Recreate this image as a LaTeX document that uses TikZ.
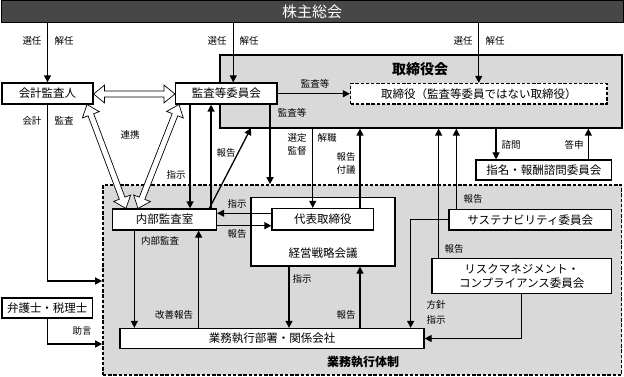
\documentclass[tikz,border=0pt]{standalone}
\usepackage{fontspec}
\setmainfont{Noto Sans CJK JP}
\usetikzlibrary{arrows.meta,calc}
\definecolor{lg}{HTML}{D9D9D9}
\definecolor{dg}{HTML}{474747}
\newcommand\hollowdbl[2]{%
  \draw[line width=0.7pt, fill=white]
    (#1) -- ($(#1)!14.21pt!39.3:(#2)$) -- ($(#1)!11.40pt!15.26:(#2)$)
    -- ($(#2)!11.40pt!-15.26:(#1)$) -- ($(#2)!14.21pt!-39.3:(#1)$)
    -- (#2) -- ($(#2)!14.21pt!39.3:(#1)$) -- ($(#2)!11.40pt!15.26:(#1)$)
    -- ($(#1)!11.40pt!-15.26:(#2)$) -- ($(#1)!14.21pt!-39.3:(#2)$) -- cycle;}
\begin{document}
\begin{tikzpicture}[x=1pt,y=-1pt,
  box/.style={draw, line width=1.3pt, fill=white, inner sep=0pt, font=\fontsize{11.5}{14}\selectfont},
  dbox/.style={box, dash pattern=on 3.4pt off 1.8pt},
  lbl/.style={font=\fontsize{9.5}{11}\selectfont, inner sep=0pt},
  arr/.style={line width=1.3pt, -{Triangle[length=7pt,width=7pt]}},
]
\useasboundingbox (0,0) rectangle (624,377);
% top bar
\node[draw, line width=1pt, fill=dg, text=white, minimum width=622, minimum height=22, inner sep=0pt,
  font=\fontsize{15}{17}\selectfont] (kabu) at (312,12) {株主総会};
% large areas
\node[box, line width=1.7pt, dash pattern=on 3.4pt off 1.8pt, fill=lg, minimum width=518.5, minimum height=190] (gyomu) at (362.25,280) {};
\node[lbl, font=\fontsize{12}{14}\selectfont\bfseries] (gyomut) at (363,362) {業務執行体制};
\node[box, fill=lg, minimum width=402, minimum height=73] (tkai) at (421,91.5) {};
\node[font=\fontsize{14}{16}\selectfont\bfseries, inner sep=0pt] (tkait) at (420,69) {取締役会};
% boxes
\node[box, minimum width=91, minimum height=21] (kaikei) at (47.5,93.5) {会計監査人};
\node[box, minimum width=101.5, minimum height=21] (kansa) at (226.25,93.5) {監査等委員会};
\node[dbox, minimum width=256.5, minimum height=20.5] (tori) at (478.75,93.75) {取締役（監査等委員ではない取締役）};
\node[box, minimum width=135.5, minimum height=20] (shimei) at (543.75,170) {指名・報酬諮問委員会};
\node[box, minimum width=104, minimum height=21] (naibu) at (164.5,219.5) {内部監査室};
\node[box, minimum width=144, minimum height=68.5] (keiei) at (323,231.75) {};
\node[font=\fontsize{11.5}{14}\selectfont, inner sep=0pt] (keieit) at (323,253) {経営戦略会議};
\node[box, minimum width=101.5, minimum height=21.5] (daihyo) at (322.75,219.25) {代表取締役};
\node[box, minimum width=304, minimum height=20] (gyomubu) at (272,338.5) {業務執行部署・関係会社};
\node[box, minimum width=90.5, minimum height=20] (bengo) at (47.25,308) {弁護士・税理士};
\node[box, minimum width=162.5, minimum height=20.5] (sus) at (530.25,219.75) {サステナビリティ委員会};
\node[box, minimum width=179.5, minimum height=35, align=center] (risk) at (521.75,276) {リスクマネジメント・\\コンプライアンス委員会};
% hollow arrows (連携)
\coordinate (hk) at (93.6,94);
\coordinate (hm) at (174.9,94);
\hollowdbl{hk}{hm}
\coordinate (hl1) at (87,104.5);
\coordinate (hl2) at (126,208.5);
\hollowdbl{hl1}{hl2}
\coordinate (hr1) at (179,104.5);
\coordinate (hr2) at (138,208.5);
\hollowdbl{hr1}{hr2}
\node[lbl] (renkei) at (130,135) {連携};
% election arrows
\draw[arr] (kabu.south -| kaikei.north) -- (kaikei.north);
\node[lbl] at (32,41) {選任}; \node[lbl] at (64,41) {解任};
\coordinate (k2) at ($(kansa.north)+(7,0)$);
\draw[arr] (kabu.south -| k2) -- (k2);
\node[lbl] at (217,41) {選任}; \node[lbl] at (249,41) {解任};
\draw[arr] (kabu.south -| tori.north) -- (tori.north);
\node[lbl] at (463,41) {選任}; \node[lbl] at (495,41) {解任};
% 監査等
\draw[arr] (kansa.east |- tori.west) -- (tori.west);
\node[lbl] at (315,84) {監査等};
\coordinate (ks) at ($(kansa.south)+(43.75,0)$);
\draw[arr] (ks) -- (ks |- gyomu.north);
\node[lbl] at (292,113) {監査等};
% kansa <-> naibu
\coordinate (ns1) at ($(kansa.south west)+(15.2,0)$);
\draw[arr] (ns1) -- (ns1 |- naibu.north);
\node[lbl] at (176,175) {指示};
\coordinate (ns2) at ($(naibu.north west)+(99.2,0)$);
\draw[arr] (ns2) -- (ns2 |- kansa.south);
\node[lbl] at (226,153) {報告};
\coordinate (nd) at ($(naibu.north west)+(97.5,0)$);
\coordinate (td) at (251,128);
\draw[arr] (nd) -- (td);
% tkai <-> daihyo
\coordinate (dt1) at ($(daihyo.north)+(-10,0)$);
\draw[arr] (dt1 |- tkai.south) -- (dt1);
\node[lbl] at (297,138) {選定}; \node[lbl] at (297,151) {監督};
\node[lbl] at (327,138) {解職};
\coordinate (dt2) at ($(daihyo.north)+(37.25,0)$);
\draw[arr] (dt2) -- (dt2 |- tkai.south);
\node[lbl] at (346,157) {報告}; \node[lbl] at (346,170) {付議};
% naibu <-> daihyo
\coordinate (dn1) at ($(daihyo.west)+(0,-6)$);
\draw[arr] (dn1) -- (dn1 -| naibu.east);
\node[lbl] at (237,204) {指示};
\coordinate (dn2) at ($(naibu.east)+(0,6.2)$);
\draw[arr] (dn2) -- (dn2 -| daihyo.west);
\node[lbl] at (237,234) {報告};
% naibu <-> gyomubu
\coordinate (ng1) at ($(naibu.south west)+(22.5,0)$);
\draw[arr] (ng1) -- (ng1 |- gyomubu.north);
\node[lbl] at (160,241) {内部監査};
\coordinate (ng2) at ($(naibu.south west)+(86.8,0)$);
\draw[arr] (ng2 |- gyomubu.north) -- (ng2);
\node[lbl] at (174,315) {改善報告};
% keiei <-> gyomubu
\coordinate (kg1) at ($(keiei.south)+(-34,0)$);
\draw[arr] (kg1) -- (kg1 |- gyomubu.north);
\node[lbl] at (302,279) {指示};
\coordinate (kg2) at ($(keiei.south)+(37,0)$);
\draw[arr] (kg2 |- gyomubu.north) -- (kg2);
\node[lbl] at (346,315) {報告};
% shimei
\coordinate (sh1) at ($(shimei.north west)+(20.7,0)$);
\draw[arr] (sh1 |- tkai.south) -- (sh1);
\node[lbl] at (511,145) {諮問};
\coordinate (sh2) at ($(shimei.north west)+(113,0)$);
\draw[arr] (sh2) -- (sh2 |- tkai.south);
\node[lbl] at (574,145) {答申};
% sus / risk reports
\coordinate (su1) at ($(sus.north west)+(8,0)$);
\draw[arr] (su1) -- (su1 |- tkai.south);
\node[lbl] at (473,199) {報告};
\coordinate (ri1) at ($(risk.north west)+(7.3,0)$);
\draw[arr] (ri1) -- (ri1 |- tkai.south);
\node[lbl] at (454,249) {報告};
% directives to gyomubu
\coordinate (gb1) at ($(gyomubu.north east)+(-14,0)$);
\draw[arr] (sus.west) -| (gb1);
\draw[arr] (risk.south) |- (gyomubu.east);
\node[lbl] at (436,305) {方針}; \node[lbl] at (436,320) {指示};
% external
\draw[arr] (kaikei.south) |- (gyomu.west |- 0,281);
\node[lbl] at (32,121) {会計}; \node[lbl] at (64,121) {監査};
\draw[arr] (bengo.south) |- (gyomu.west |- 0,344);
\node[lbl] at (82,331) {助言};
\end{tikzpicture}
\end{document}
